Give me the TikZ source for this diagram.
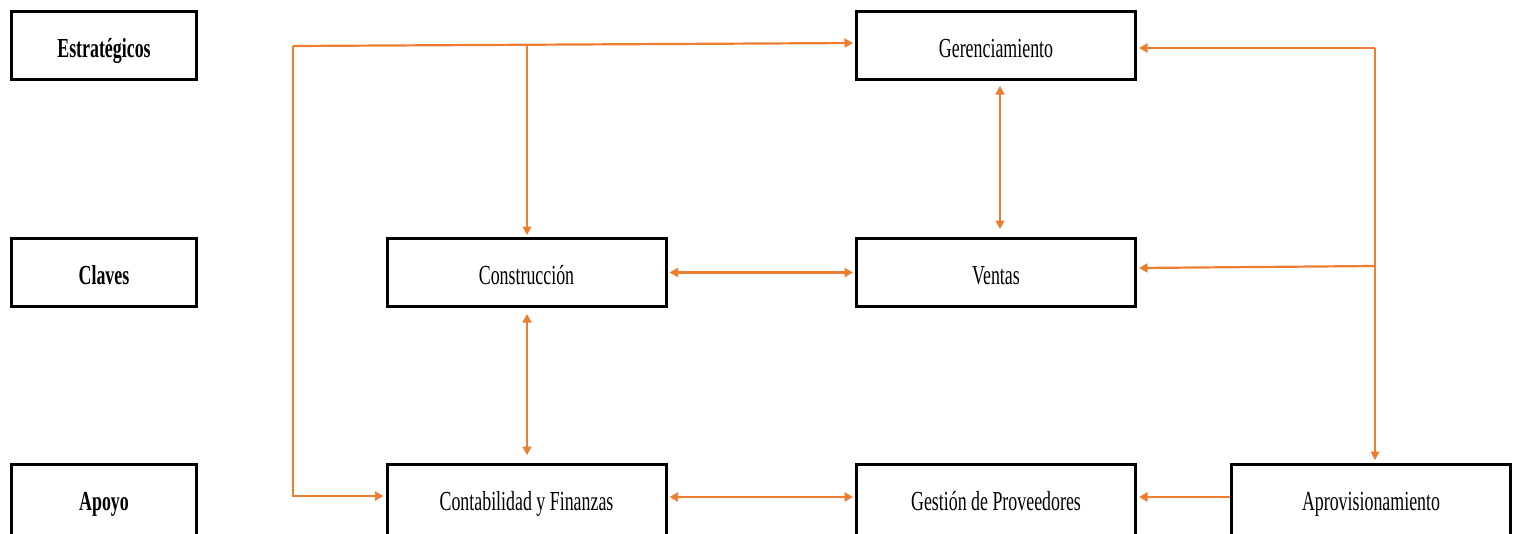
\documentclass[tikz,border=0pt]{standalone}
\usepackage{fontspec}
\setmainfont{Liberation Serif}
\usetikzlibrary{arrows.meta}
\definecolor{flow}{HTML}{ED7D31}
% narrow, tall lettering used in all boxes
\newcommand{\lbl}[1]{\scalebox{0.65}[1]{#1}}
\begin{document}
\begin{tikzpicture}[x=1pt,y=-1pt,
  box/.style={draw=black,line width=3pt,fill=white,minimum height=68pt,inner sep=0pt,
    text height=23.5pt,text depth=0pt,
    font=\fontsize{27.5}{27.5}\selectfont},
  side/.style={box,minimum width=185pt},
  proc/.style={box,minimum width=279pt},
  low/.style={minimum height=76pt,text height=16pt},
  tip/.tip={Triangle[length=8.5pt,width=9pt]},
  link/.style={draw=flow,line width=2.2pt,-tip,shorten >=2pt},
  both/.style={draw=flow,line width=2.4pt,tip-tip,shorten >=2pt,shorten <=2pt},
  vlink/.style={link,line width=1.5pt},
  vboth/.style={both,line width=1.5pt}
]
\useasboundingbox (0,0) rectangle (1520,533);
\clip (0,0) rectangle (1520,533);

% level labels
\node[side] (estr) at (104,45.5)  {\lbl{\textbf{Estratégicos}}};
\node[side] (clav) at (104,272.5) {\lbl{\textbf{Claves}}};
\node[side,low] (apoy) at (104,502.5) {\lbl{\textbf{Apoyo}}};

% processes
\node[proc] (ger)  at (996,45.5)    {\lbl{Gerenciamiento}};
\node[proc] (cons) at (526.5,272.5) {\lbl{Construcción}};
\node[proc] (vent) at (996,272.5)   {\lbl{Ventas}};
\node[proc,low] (cont) at (526.5,502.5) {\lbl{Contabilidad y Finanzas}};
\node[proc,low] (gest) at (996,502.5)   {\lbl{Gestión de Proveedores}};
\node[proc,low] (aprv) at (1371,502.5)  {\lbl{Aprovisionamiento}};

% junction points of the routed lines
\coordinate (tl) at (293,46);
\coordinate (bl) at (293,496);
\coordinate (tc) at (527,45);
\coordinate (tr) at (1375,48);
\coordinate (mr) at (1375,266);
\coordinate (br) at (1375,458);

% left feed line
\draw[link] (tl) -- ([yshift=2.5pt]ger.west);
\draw[link] (tl) -- (bl) -- (bl -| cont.west);
\draw[vlink] (tc) -- ([xshift=0.5pt]cons.north);

% right feed line
\draw[link] (tr) -- ([yshift=-2.5pt]ger.east);
\draw[vlink,shorten >=3pt] (tr) -- (br) -- ([xshift=4pt]aprv.north);
\draw[link] (mr) -- ([yshift=4.5pt]vent.east);

% links between processes
\draw[vboth,shorten >=8pt,shorten <=5pt] ([xshift=4pt]ger.south) -- ([xshift=4pt]vent.north);
\draw[both] (cons.east) -- (vent.west);
\draw[vboth,shorten >=8pt,shorten <=6pt] ([xshift=0.5pt]cons.south) -- ([xshift=0.5pt]cont.north);
\draw[both] ([yshift=5.5pt]cont.east) -- ([yshift=5.5pt]gest.west);
\draw[link] ([yshift=5.5pt]aprv.west) -- ([yshift=5.5pt]gest.east);
\end{tikzpicture}
\end{document}
